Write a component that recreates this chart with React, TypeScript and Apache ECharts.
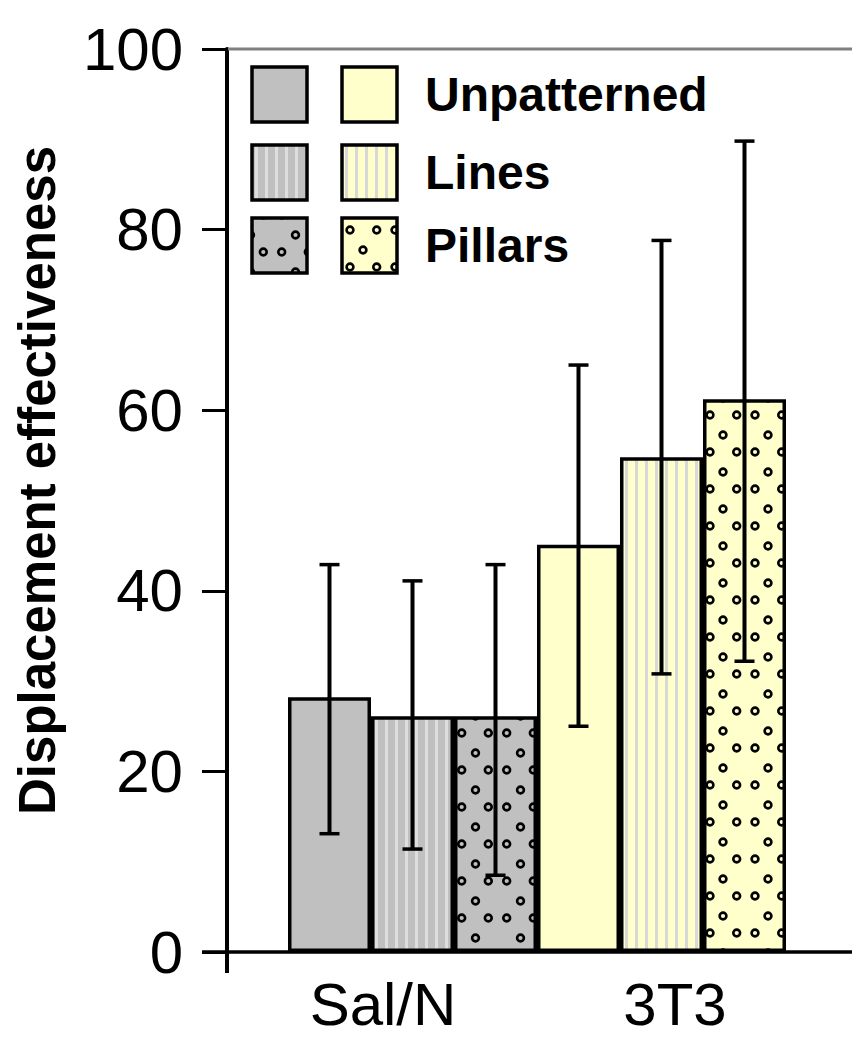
import React, { useEffect, useRef } from 'react';
import * as echarts from 'echarts';

const groups = ['Sal/N', '3T3'];
const seriesNames = ['Unpatterned', 'Lines', 'Pillars'];
const unpatterned = [28.2, 45.1];
const lines = [26.1, 54.8];
const pillars = [26.1, 61.2];
const unpatternedLow = [13.1, 25.0];
const unpatternedHigh = [42.9, 65.0];
const linesLow = [11.4, 30.8];
const linesHigh = [41.1, 78.8];
const pillarsLow = [8.5, 32.2];
const pillarsHigh = [42.9, 89.8];
const yMin = 0;
const yMax = 100;
const yStep = 20;

const GRAY = '#c0c0c0';
const YELLOW = '#ffffcc';
const FONT = '"Liberation Sans", Arial, sans-serif';

function makeStripes(base: string, stripe: string) {
  const c = document.createElement('canvas');
  c.width = 10;
  c.height = 10;
  const ctx = c.getContext('2d')!;
  ctx.fillStyle = base;
  ctx.fillRect(0, 0, 10, 10);
  ctx.fillStyle = stripe;
  ctx.fillRect(5, 0, 3, 10);
  return { image: c, repeat: 'repeat' as const };
}

function makeDots(base: string, pts: number[][]) {
  const w = 45;
  const h = 37;
  const c = document.createElement('canvas');
  c.width = w;
  c.height = h;
  const ctx = c.getContext('2d')!;
  ctx.fillStyle = base;
  ctx.fillRect(0, 0, w, h);
  ctx.strokeStyle = '#000';
  ctx.lineWidth = 2.6;
  for (const [cx, cy] of pts) {
    for (const dx of [-w, 0, w]) {
      for (const dy of [-h, 0, h]) {
        ctx.beginPath();
        ctx.arc(cx + dx, cy + dy, 3.4, 0, Math.PI * 2);
        ctx.stroke();
      }
    }
  }
  return { image: c, repeat: 'repeat' as const };
}

export default function App() {
  const ref = useRef<HTMLDivElement>(null);
  useEffect(() => {
    if (!ref.current) return;
    const chart = echarts.init(ref.current, undefined, { renderer: 'svg' });

    const fills = {
      Unpatterned: [GRAY, YELLOW],
      Lines: [makeStripes(GRAY, '#dedede'), makeStripes(YELLOW, '#d8d8d8')],
      Pillars: [
        makeDots(GRAY, [[11.7, 30], [38.3, 30], [25.5, 13]]),
        makeDots(YELLOW, [[35, 8], [16.7, 8], [3, 28]]),
      ],
    } as Record<string, any[]>;

    const values: Record<string, number[]> = { Unpatterned: unpatterned, Lines: lines, Pillars: pillars };
    const lows: Record<string, number[]> = { Unpatterned: unpatternedLow, Lines: linesLow, Pillars: pillarsLow };
    const highs: Record<string, number[]> = { Unpatterned: unpatternedHigh, Lines: linesHigh, Pillars: pillarsHigh };

    const barSeries = seriesNames.map((name) => ({
      name,
      type: 'bar',
      barGap: '0%',
      barCategoryGap: '0%',
      z: 2,
      data: values[name].map((v, i) => ({
        value: v,
        itemStyle: { color: fills[name][i], borderColor: '#000', borderWidth: 3.5 },
      })),
    }));

    const errData: number[][] = [];
    groups.forEach((_, g) => {
      seriesNames.forEach((name, s) => {
        errData.push([g, s, lows[name][g], highs[name][g]]);
      });
    });

    const legendRows = seriesNames.map((name, r) => {
      const y = [67, 145, 218][r];
      return [
        {
          type: 'rect',
          shape: { x: 252, y, width: 55, height: 55 },
          style: { fill: fills[name][0], stroke: '#000', lineWidth: 3.5 },
          z: 10,
        },
        {
          type: 'rect',
          shape: { x: 342, y, width: 55, height: 55 },
          style: { fill: fills[name][1], stroke: '#000', lineWidth: 3.5 },
          z: 10,
        },
        {
          type: 'text',
          x: 425,
          y: y + 27.5,
          style: {
            text: name,
            font: `bold 48px ${FONT}`,
            fill: '#000',
            verticalAlign: 'middle',
            align: 'left',
          },
          z: 10,
        },
      ];
    }).flat();

    chart.setOption({
      animation: false,
      backgroundColor: '#fff',
      grid: { left: 288, top: 49, width: 498, height: 903 },
      xAxis: {
        type: 'category',
        data: groups,
        axisLine: { show: false },
        axisTick: { show: false },
        axisLabel: {
          margin: 22,
          formatter: (v: string) => (v === 'Sal/N' ? '{a|Sal/N}' : '{b|3T3}'),
          rich: {
            a: { fontFamily: FONT, fontSize: 60, color: '#000', padding: [0, 59, 0, 0] },
            b: { fontFamily: FONT, fontSize: 60, color: '#000', padding: [0, 0, 0, 27] },
          },
        },
      },
      yAxis: {
        type: 'value',
        min: yMin,
        max: yMax,
        interval: yStep,
        offset: 61,
        name: 'Displacement effectiveness',
        nameLocation: 'middle',
        nameRotate: 90,
        nameGap: 164,
        nameTextStyle: {
          fontFamily: FONT,
          fontWeight: 'bold',
          fontSize: 51,
          color: '#000',
          padding: [0, 0, 0, 40],
        },
        axisLine: { show: true, lineStyle: { color: '#000', width: 4 } },
        axisTick: { show: true, length: 25, lineStyle: { color: '#000', width: 3 } },
        axisLabel: { margin: 44, fontFamily: FONT, fontSize: 60, color: '#000' },
        splitLine: { show: false },
      },
      series: [
        ...barSeries,
        {
          type: 'custom',
          z: 5,
          data: errData,
          encode: { x: 0, y: [2, 3] },
          renderItem: (params: any, api: any) => {
            const g = api.value(0);
            const s = api.value(1);
            const pLo = api.coord([g, api.value(2)]);
            const pHi = api.coord([g, api.value(3)]);
            const bw = api.size([1, 0])[0] / 3;
            const x = pLo[0] + (s - 1) * bw;
            const cap = 10;
            return {
              type: 'group',
              children: [
                { type: 'line', shape: { x1: x, y1: pLo[1], x2: x, y2: pHi[1] }, style: { stroke: '#000', lineWidth: 4 } },
                { type: 'line', shape: { x1: x - cap, y1: pHi[1], x2: x + cap, y2: pHi[1] }, style: { stroke: '#000', lineWidth: 3.5 } },
                { type: 'line', shape: { x1: x - cap, y1: pLo[1], x2: x + cap, y2: pLo[1] }, style: { stroke: '#000', lineWidth: 3.5 } },
              ],
            };
          },
        },
      ],
      graphic: [
        { type: 'line', shape: { x1: 228, y1: 49, x2: 852, y2: 49 }, style: { stroke: '#808080', lineWidth: 3 }, z: 1 },
        { type: 'line', shape: { x1: 202, y1: 952, x2: 852, y2: 952 }, style: { stroke: '#000', lineWidth: 3.5 }, z: 10 },
        { type: 'line', shape: { x1: 227, y1: 950, x2: 227, y2: 973 }, style: { stroke: '#000', lineWidth: 4 }, z: 10 },
        ...legendRows,
      ],
    });
    return () => chart.dispose();
  }, []);
  return <div ref={ref} style={{ position: 'fixed', left: 0, top: 0, width: 852, height: 1041 }} />;
}
